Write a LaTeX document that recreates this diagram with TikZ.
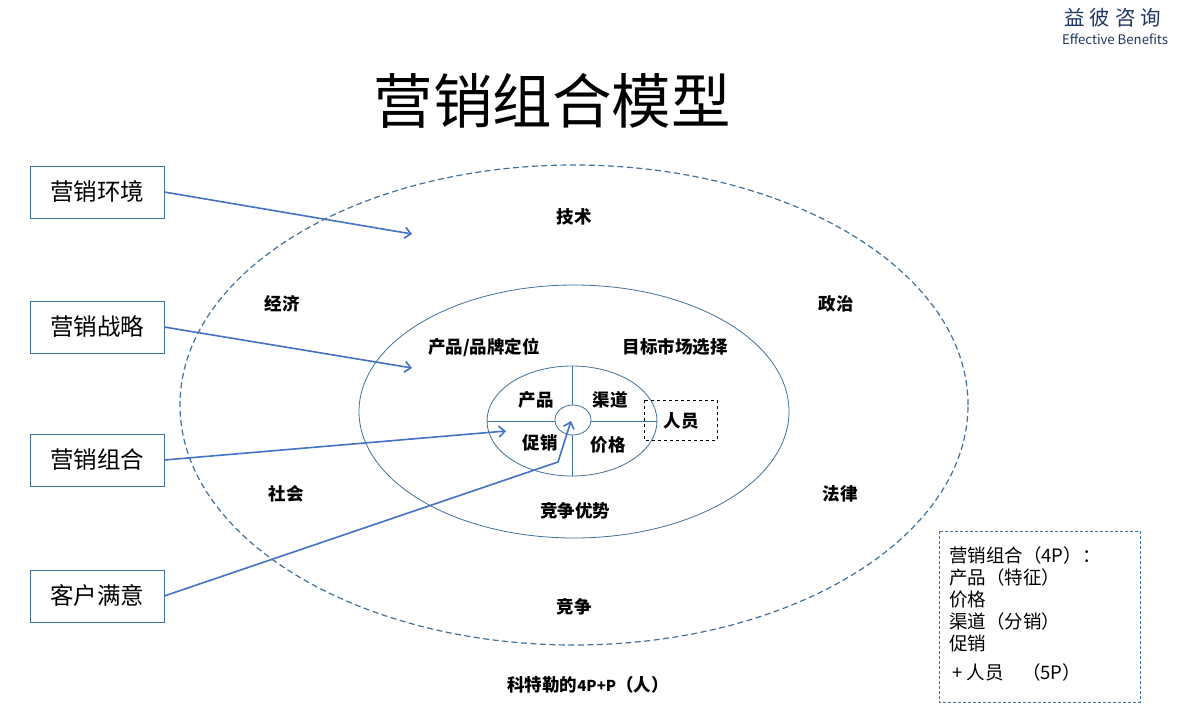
\documentclass[tikz,border=0pt]{standalone}
\usepackage{fontspec}
\setmainfont{Noto Sans CJK SC}
\usetikzlibrary{arrows.meta}
\definecolor{lineblue}{HTML}{4472C4}
\definecolor{ringblue}{HTML}{41719C}
\definecolor{logoblue}{HTML}{1F3864}
\tikzset{
  envbox/.style={draw=ringblue, minimum width=134pt, minimum height=52pt, font=\fontsize{23.5}{26}\selectfont},
  ringlabel/.style={font=\bfseries\fontsize{17.5}{20}\selectfont},
  pointer/.style={lineblue, line width=1.6pt, -{Straight Barb[length=6pt,width=11pt]}}
}
\begin{document}
\begin{tikzpicture}[x=1pt,y=-1pt]
    \useasboundingbox[fill=white] (0,0) rectangle (1192,704);
    % logo and title
    \node[logoblue, font=\fontsize{20.5}{22}\selectfont] (logo) at (1113,18) {益\hspace{5pt}彼\hspace{5pt}咨\hspace{5pt}询};
    \node[logoblue, font=\fontsize{13.2}{15}\selectfont] (logoen) at (1115,39) {Effective Benefits};
    \node[font=\fontsize{59.5}{62}\selectfont] (title) at (552,101) {营销组合模型};
    % rings
    \draw[ringblue, line width=1.2pt, dash pattern=on 6pt off 3.5pt] (574,405) ellipse [x radius=394pt, y radius=240pt];
    \draw[ringblue, thick] (574,411.5) ellipse [x radius=215pt, y radius=126.5pt];
    \draw[ringblue, thick] (572,421) ellipse [x radius=85pt, y radius=55pt];
    \draw[ringblue] (572,366) -- (572,476);
    \draw[ringblue] (487,421) -- (657,421);
    \draw[ringblue, thick, fill=white] (573,420) ellipse [x radius=18pt, y radius=15pt];
    \draw[dashed, thick] (644,400) rectangle (717,440);
    % ring labels
    \node[ringlabel] (tech) at (574,217) {技术};
    \node[ringlabel] (econ) at (282,304) {经济};
    \node[ringlabel] (poli) at (836,304) {政治};
    \node[ringlabel] (soci) at (286,494) {社会};
    \node[ringlabel] (law) at (840,494) {法律};
    \node[ringlabel] (comp) at (574,607) {竞争};
    \node[ringlabel] (brand) at (484,347) {产品/品牌定位};
    \node[ringlabel] (target) at (675,347) {目标市场选择};
    \node[ringlabel] (adv) at (575,511) {竞争优势};
    \node[ringlabel] (prod) at (536,400) {产品};
    \node[ringlabel] (chan) at (610,400) {渠道};
    \node[ringlabel] (promo) at (540,443) {促销};
    \node[ringlabel] (price) at (608,445) {价格};
    \node[ringlabel] (people) at (681,421) {人员};
    \node[font=\bfseries\fontsize{17.5}{20}\selectfont] (kotler) at (588,685) {科特勒的{\fontsize{15}{18}\selectfont 4P+P}（人）};
    % left boxes and pointers
    \node[envbox] (env) at (97,192) {营销环境};
    \node[envbox] (strat) at (97,327) {营销战略};
    \node[envbox] (mix) at (97,460) {营销组合};
    \node[envbox] (sat) at (97,596) {客户满意};
    \coordinate (envend) at (412,234);
    \coordinate (stratend) at (412,368);
    \coordinate (mixend) at (506,431);
    \coordinate (satbend) at (558,462);
    \coordinate (satend) at (571,421);
    \draw[pointer] (env.east) -- (envend);
    \draw[pointer] (strat.east) -- (stratend);
    \draw[pointer] (mix.east) -- (mixend);
    \draw[pointer] (sat.east) -- (satbend) -- (satend);
    % note box
    \draw[ringblue, dash pattern=on 3pt off 2pt] (939,531) rectangle (1140,702);
    \node[anchor=north west, align=left, inner sep=0pt, font=\fontsize{18.5}{22}\selectfont] (note) at (949,546)
      {营销组合（4P）：\\产品（特征）\\价格\\渠道（分销）\\促销\\[7pt]\,+ 人员\quad（5P）};
\end{tikzpicture}
\end{document}
